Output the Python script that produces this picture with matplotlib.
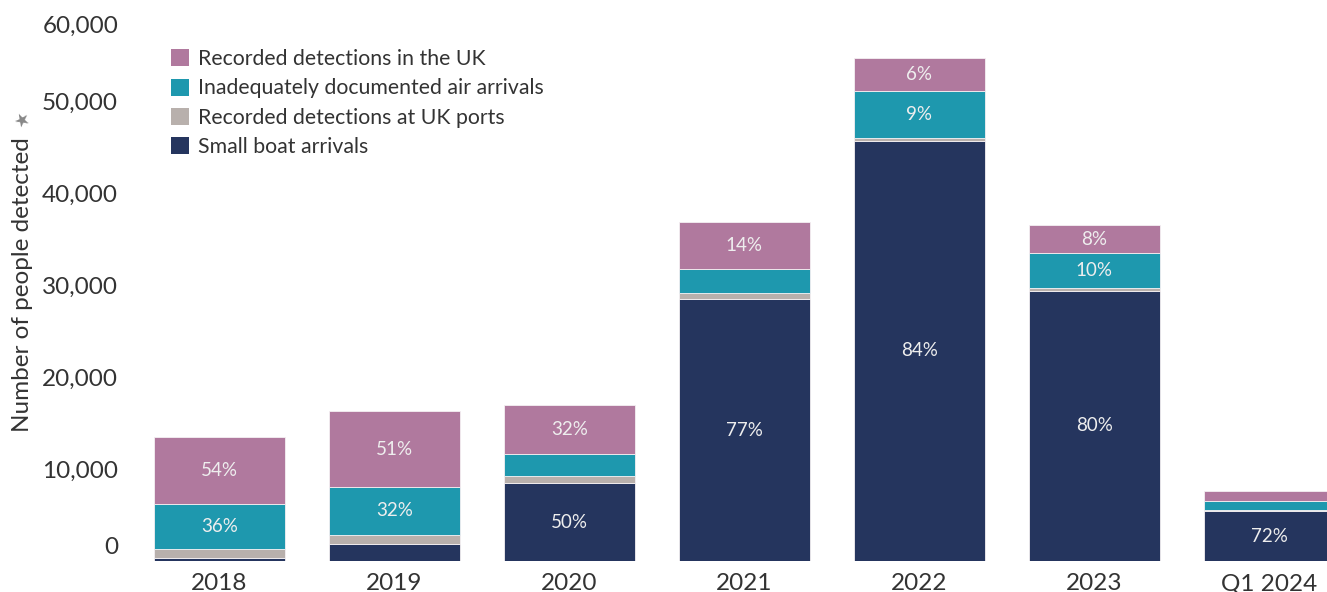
import numpy as np
import matplotlib
matplotlib.use("Agg")
import matplotlib.pyplot as plt
import matplotlib.transforms as mtransforms
from matplotlib.patches import Patch

plt.rcParams['font.family'] = ['Lato', 'DejaVu Sans']

periods = ['2018', '2019', '2020', '2021', '2022', '2023', 'Q1 2024']
small_boats = [299, 1843, 8466, 28526, 45774, 29437, 5435]
uk_ports = [1050, 1000, 800, 620, 250, 260, 110]
air_arrivals = [4850, 5200, 2350, 2600, 5200, 3800, 1000]
in_country = [7300, 8300, 5400, 5200, 3550, 3100, 1050]

# bottom-to-top stacking order
series = [
    ('Small boat arrivals', small_boats, '#25355E'),
    ('Recorded detections at UK ports', uk_ports, '#B8B0AC'),
    ('Inadequately documented air arrivals', air_arrivals, '#1E98AE'),
    ('Recorded detections in the UK', in_country, '#B0799E'),
]

fig = plt.figure(figsize=(13.27, 5.92), dpi=100)
ax = fig.add_axes([0.0995, 0.0524, 0.9005, 0.9307])

x = np.arange(len(periods))
totals = np.sum([s[1] for s in series], axis=0)
bottom = np.zeros(len(periods))
for name, vals, color in series:
    vals = np.array(vals, dtype=float)
    ax.bar(x, vals, width=0.75, bottom=bottom, color=color,
           edgecolor='#f4f0f2', linewidth=0.6, label=name)
    for i in range(len(x)):
        if vals[i] >= 3000:
            pct = round(vals[i] / totals[i] * 100)
            ax.text(x[i], bottom[i] + vals[i] / 2, f'{pct}%', ha='center',
                    va='center', color='#eeeeee', fontsize=13.5)
    bottom += vals

ax.set_xlim(-0.5, 6.33)
ax.set_ylim(0, 60000)
ax.set_xticks(x)
ax.set_xticklabels(periods, fontsize=17.5, color='#333333')
yt = np.arange(0, 60001, 10000)
ax.set_yticks(yt)
ax.set_yticklabels([f'{v:,}' for v in yt], fontsize=17.5, color='#333333')
ax.tick_params(length=0)
ax.tick_params(axis='y', pad=10)
ax.tick_params(axis='x', pad=9)
for s in ax.spines.values():
    s.set_visible(False)

# keep the end labels inside the plotting area
ylabels = ax.get_yticklabels()
ylabels[0].set_transform(ylabels[0].get_transform() +
                         mtransforms.ScaledTranslation(0, 0.15, fig.dpi_scale_trans))
ylabels[-1].set_transform(ylabels[-1].get_transform() +
                          mtransforms.ScaledTranslation(0, -0.14, fig.dpi_scale_trans))

fig.text(0.0166, 0.52, 'Number of people detected', rotation=90,
         ha='center', va='center', fontsize=17.5, color='#333333')
fig.text(0.0166, 0.80, '\u2605', rotation=100, ha='center', va='center',
         fontsize=13, color='#888888', family='DejaVu Sans')

handles = [Patch(facecolor=c, edgecolor='none', label=n) for n, _, c in series[::-1]]
ax.legend(handles=handles, loc='upper left', bbox_to_anchor=(0.1205, 0.935),
          bbox_transform=fig.transFigure, frameon=False, fontsize=15.3,
          handlelength=0.85, handleheight=0.85, handletextpad=0.45,
          labelspacing=0.44, borderpad=0, labelcolor='#333333')

fig.savefig('out.png', dpi=100)
